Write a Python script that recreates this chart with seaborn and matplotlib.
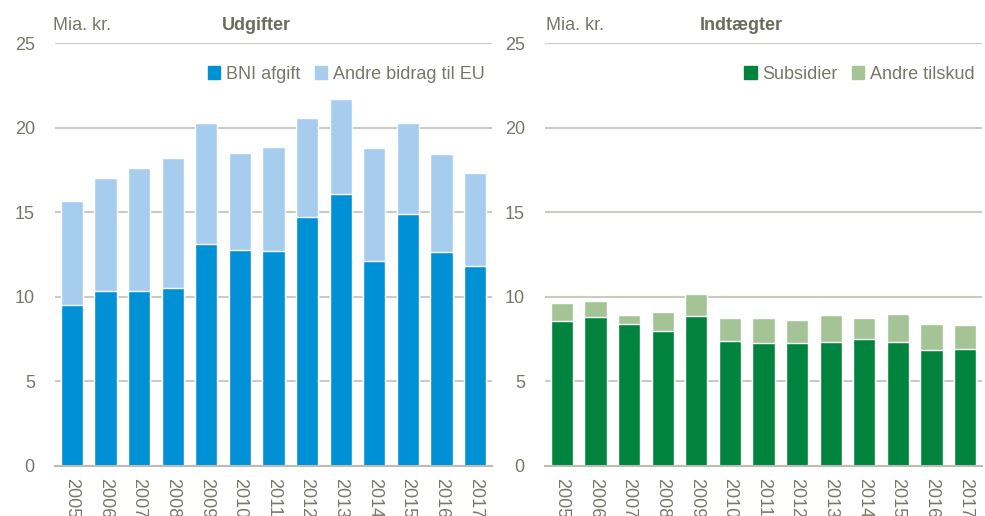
import numpy as np
import pandas as pd
import matplotlib
matplotlib.use("Agg")
import matplotlib.pyplot as plt
import seaborn as sns
from matplotlib.patches import Patch

# Data (mia. kr.)
years = [str(y) for y in range(2005, 2018)]
bni_afgift = [9.5, 10.34, 10.34, 10.5, 13.1, 12.77, 12.7, 14.7, 16.1, 12.1, 14.9, 12.65, 11.8]
andre_bidrag = [6.16, 6.66, 7.26, 7.7, 7.17, 5.73, 6.15, 5.87, 5.6, 6.7, 5.4, 5.8, 5.5]
subsidier = [8.56, 8.8, 8.39, 7.97, 8.86, 7.4, 7.28, 7.26, 7.34, 7.5, 7.32, 6.87, 6.91]
andre_tilskud = [1.07, 0.97, 0.55, 1.15, 1.3, 1.32, 1.48, 1.34, 1.58, 1.24, 1.68, 1.53, 1.44]

sns.set_theme(style="white")
plt.rcParams['font.family'] = ['Liberation Sans', 'DejaVu Sans']

txt = '#77786b'
grid = '#cbcbc3'

udg = pd.DataFrame({'aar': years, 'bni': bni_afgift, 'andre': andre_bidrag})
udg['total'] = udg['bni'] + udg['andre']
ind = pd.DataFrame({'aar': years, 'sub': subsidier, 'andre': andre_tilskud})
ind['total'] = ind['sub'] + ind['andre']

fig = plt.figure(figsize=(9.85, 5.16), dpi=100)
ax1 = fig.add_axes([55/985, 1-466/516, 437/985, 423/516])
ax2 = fig.add_axes([545/985, 1-466/516, 437/985, 423/516])


def panel(ax, df, dark, c_dark, c_light, lab_dark, lab_light):
    # lys del tegnes som total, mørk del ovenpå
    sns.barplot(data=df, x='aar', y='total', color=c_light, width=0.66, ax=ax, saturation=1)
    sns.barplot(data=df, x='aar', y=dark, color=c_dark, width=0.66, ax=ax, saturation=1)
    ax.set_ylim(0, 25)
    ax.set_xlim(-0.5, len(years) - 0.5)
    ax.set_yticks([0, 5, 10, 15, 20, 25])
    ax.yaxis.grid(True, color=grid, linewidth=1.5)
    ax.set_axisbelow(True)
    for s in ['left', 'right', 'top']:
        ax.spines[s].set_visible(False)
    ax.spines['bottom'].set_color('#bdbdb5')
    ax.spines['bottom'].set_linewidth(1.5)
    ax.tick_params(axis='both', length=0, labelsize=13, colors=txt)
    ax.tick_params(axis='y', pad=14.5)
    ax.tick_params(axis='x', pad=9)
    for lbl in ax.get_xticklabels():
        lbl.set_rotation(270)
    ax.set_xlabel('')
    ax.set_ylabel('')
    handles = [Patch(color=c_dark), Patch(color=c_light)]
    leg = ax.legend(handles, [lab_dark, lab_light], loc='upper right',
                    bbox_to_anchor=(1.02, 0.985), frameon=False, fontsize=13,
                    handlelength=0.7, handleheight=0.7, handletextpad=0.3,
                    columnspacing=0.8, ncol=2)
    for t in leg.get_texts():
        t.set_color(txt)
    return ax


panel(ax1, udg, 'bni', '#0090d6', '#a6cdee', 'BNI afgift', 'Andre bidrag til EU')
panel(ax2, ind, 'sub', '#00843d', '#a4c496', 'Subsidier', 'Andre tilskud')

fig.text(53/985, 1-25/516, 'Mia. kr.', fontsize=13, color=txt, va='center')
fig.text(222/985, 1-25/516, 'Udgifter', fontsize=13, color='#6b6c5e', weight='bold', va='center')
fig.text(546/985, 1-25/516, 'Mia. kr.', fontsize=13, color=txt, va='center')
fig.text(700/985, 1-25/516, 'Indtægter', fontsize=13, color='#6b6c5e', weight='bold', va='center')

fig.savefig('out.png', dpi=100)
